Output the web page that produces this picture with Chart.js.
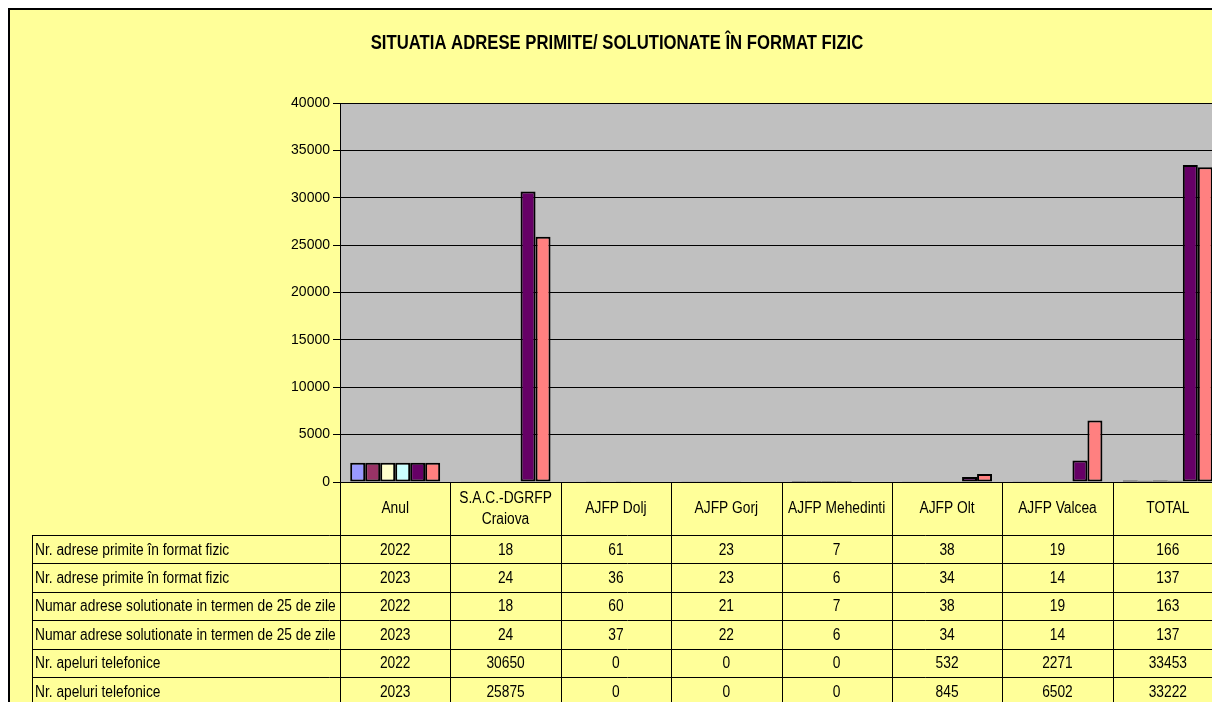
<!DOCTYPE html>
<html>
<head>
<meta charset="utf-8">
<script src="https://cdn.jsdelivr.net/npm/chart.js@4/dist/chart.umd.min.js"></script>
<style>
  html, body { margin: 0; padding: 0; overflow: hidden; background: #fff; }
  #wrap { position: absolute; left: 0; top: 0; width: 1240px; height: 720px; }
</style>
</head>
<body>
<div id="wrap"><canvas id="chart" width="1240" height="720"></canvas></div>
<script>
// ---- data -------------------------------------------------------------
const chartTitle = "SITUATIA ADRESE PRIMITE/ SOLUTIONATE ÎN FORMAT FIZIC";
const categories = ["Anul", ["S.A.C.-DGRFP", "Craiova"], "AJFP Dolj", "AJFP Gorj", "AJFP Mehedinti", "AJFP Olt", "AJFP Valcea", "TOTAL"];
const seriesLabels = [
    "Nr. adrese primite în format fizic",
    "Nr. adrese primite în format fizic",
    "Numar adrese solutionate in termen de 25 de zile",
    "Numar adrese solutionate in termen de 25 de zile",
    "Nr. apeluri telefonice",
    "Nr. apeluri telefonice",
];
const primite2022 = [2022, 18, 61, 23, 7, 38, 19, 166];
const primite2023 = [2023, 24, 36, 23, 6, 34, 14, 137];
const solutionate2022 = [2022, 18, 60, 21, 7, 38, 19, 163];
const solutionate2023 = [2023, 24, 37, 22, 6, 34, 14, 137];
const apeluri2022 = [2022, 30650, 0, 0, 0, 532, 2271, 33453];
const apeluri2023 = [2023, 25875, 0, 0, 0, 845, 6502, 33222];
const seriesValues = [primite2022, primite2023, solutionate2022, solutionate2023, apeluri2022, apeluri2023];
const yMax = 40000;
const yStep = 5000;

const seriesColors = ["#9999FF", "#993366", "#FFFFCC", "#CCFFFF", "#660066", "#FF8080"];

// ---- helpers -----------------------------------------------------------
const FONT = "'Liberation Sans', Arial, sans-serif";
const SQUEEZE = 0.86;

function squeezeText(ctx, text, x, y, sx) {
    ctx.save();
    ctx.translate(x, y);
    ctx.scale(sx, 1);
    ctx.fillText(text, 0, 0);
    ctx.restore();
}

function line(ctx, x1, y1, x2, y2) {
    ctx.beginPath();
    ctx.moveTo(x1, y1);
    ctx.lineTo(x2, y2);
    ctx.stroke();
}

// background, frame, plot area, title and the data table under the chart
const tablePlugin = {
    id: "dataTable",
    beforeDraw(chart) {
        const ctx = chart.ctx;
        const a = chart.chartArea;
        ctx.save();
        ctx.fillStyle = "#fff";
        ctx.fillRect(0, 0, chart.width, chart.height);
        ctx.fillStyle = "#FFFF99";
        ctx.fillRect(9, 9, chart.width, chart.height);
        ctx.strokeStyle = "#000";
        ctx.lineWidth = 2;
        ctx.beginPath();
        ctx.moveTo(9, chart.height);
        ctx.lineTo(9, 9);
        ctx.lineTo(chart.width, 9);
        ctx.stroke();
        ctx.fillStyle = "#C0C0C0";
        ctx.fillRect(a.left, a.top, a.right - a.left, a.bottom - a.top);
        ctx.restore();
    },
    afterDraw(chart) {
        const ctx = chart.ctx;
        const a = chart.chartArea;
        const xs = chart.scales.x;
        ctx.save();

        // title
        ctx.fillStyle = "#000";
        ctx.textAlign = "center";
        ctx.textBaseline = "middle";
        ctx.font = "bold 20px " + FONT;
        squeezeText(ctx, chartTitle, 617, 43, 0.835);

        // column edges from the category scale
        const n = categories.length;
        const edges = [a.left];
        for (let i = 1; i < n; i++) {
            edges.push((xs.getPixelForValue(i - 1) + xs.getPixelForValue(i)) / 2);
        }
        edges.push(a.right);

        const headTop = a.bottom;
        const rowTop = 535;
        const rowH = 28.4;
        const labelLeft = 32;
        const tableBottom = chart.height;

        ctx.strokeStyle = "#000";
        ctx.lineWidth = 1;
        edges.forEach((x) => line(ctx, Math.round(x) + 0.5, headTop, Math.round(x) + 0.5, tableBottom));
        line(ctx, labelLeft + 0.5, rowTop, labelLeft + 0.5, tableBottom);
        for (let r = 0; r <= seriesValues.length; r++) {
            const y = Math.round(rowTop + r * rowH) + 0.5;
            line(ctx, labelLeft, y, a.right, y);
        }

        // header cells
        ctx.font = "16px " + FONT;
        const headMid = (headTop + rowTop) / 2;
        categories.forEach((c, i) => {
            const cx = xs.getPixelForValue(i);
            if (Array.isArray(c)) {
                squeezeText(ctx, c[0], cx, headMid - 10, SQUEEZE);
                squeezeText(ctx, c[1], cx, headMid + 11, SQUEEZE);
            } else {
                squeezeText(ctx, c, cx, headMid, SQUEEZE);
            }
        });

        // data rows
        seriesValues.forEach((vals, r) => {
            const cy = rowTop + r * rowH + rowH / 2 + 1;
            ctx.textAlign = "left";
            squeezeText(ctx, seriesLabels[r], labelLeft + 3, cy, SQUEEZE);
            ctx.textAlign = "center";
            vals.forEach((v, i) => squeezeText(ctx, String(v), xs.getPixelForValue(i), cy, SQUEEZE));
        });

        ctx.restore();
    },
};

Chart.defaults.font.family = FONT;
Chart.defaults.color = "#000";

new Chart(document.getElementById("chart"), {
    type: "bar",
    data: {
        labels: categories,
        datasets: seriesValues.map((vals, i) => ({
            label: seriesLabels[i],
            data: vals,
            backgroundColor: seriesColors[i],
            borderColor: "#000",
            borderWidth: 2,
            borderSkipped: false,
            barPercentage: 1,
            categoryPercentage: 0.815,
        })),
    },
    options: {
        responsive: false,
        animation: false,
        devicePixelRatio: 1,
        layout: { padding: { top: 103, right: 17, bottom: 238, left: 0 } },
        plugins: {
            legend: { display: false },
            title: { display: false },
            tooltip: { enabled: false },
        },
        scales: {
            x: { display: false },
            y: {
                min: 0,
                max: yMax,
                afterFit: (s) => { s.width = 340; },
                ticks: { stepSize: yStep, padding: 3, font: { size: 14 }, callback: (v) => String(v) },
                grid: { color: "#000", lineWidth: 1, tickLength: 7 },
                border: { display: true, color: "#000", width: 1 },
            },
        },
    },
    plugins: [tablePlugin],
});
</script>
</body>
</html>
